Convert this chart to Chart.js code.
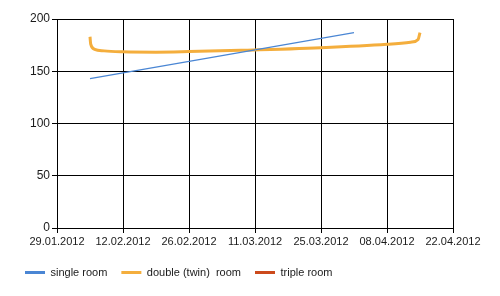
<!DOCTYPE html>
<html><head><meta charset="utf-8">
<script src="https://cdn.jsdelivr.net/npm/chart.js@4/dist/chart.umd.min.js"></script>
<style>html,body{margin:0;padding:0;background:#fff}#wrap{width:500px;height:296px}</style>
</head><body><div id="wrap"><canvas id="c" width="500" height="296"></canvas></div>
<script>
const seriesNames = ['single room', 'double (twin)  room', 'triple room'];
const seriesColors = ['#4a86d4', '#f4ae3d', '#cc4a1c'];
const singleDates = ['2012-02-05T00:00', '2012-04-01T00:00'];
const singleValues = [143, 187];
const doubleDates = ['2012-02-05T00:00', '2012-02-05T03:36', '2012-02-06T00:00', '2012-02-08T00:00',
  '2012-02-12T00:00', '2012-02-19T00:00', '2012-02-26T00:00', '2012-03-08T00:00', '2012-03-25T00:00',
  '2012-04-08T00:00', '2012-04-13T00:00', '2012-04-14T14:24', '2012-04-15T00:00'];
const doubleValues = [183, 176, 171, 169.5, 168.6, 168.3, 168.8, 170, 172.5, 175.8, 177.8, 180.5, 187];
const tripleDates = [];
const tripleValues = [];
const xStartDate = '2012-01-29T00:00';
const xEndDate = '2012-04-22T00:00';
const xTickStepDays = 14;
const yTicks = [0, 50, 100, 150, 200];

const DAY = 86400000;
const toMs = s => Date.parse(s + ':00Z');
const startMs = toMs(xStartDate);
const toDay = s => (toMs(s) - startMs) / DAY;
const pts = (d, v) => d.map((s, i) => ({x: toDay(s), y: v[i]}));
const fmt = day => {
  const d = new Date(startMs + day * DAY);
  const p = n => String(n).padStart(2, '0');
  return p(d.getUTCDate()) + '.' + p(d.getUTCMonth() + 1) + '.' + d.getUTCFullYear();
};
const FONT = "'Liberation Sans', Arial, sans-serif";

new Chart(document.getElementById('c'), {
  type: 'line',
  data: {
    datasets: [
      {label: seriesNames[0], data: pts(singleDates, singleValues), borderColor: seriesColors[0], backgroundColor: seriesColors[0], borderWidth: 1.3, pointRadius: 0, tension: 0},
      {label: seriesNames[1], data: pts(doubleDates, doubleValues), borderColor: seriesColors[1], backgroundColor: seriesColors[1], borderWidth: 3, pointRadius: 0, cubicInterpolationMode: 'monotone'},
      {label: seriesNames[2], data: pts(tripleDates, tripleValues), borderColor: seriesColors[2], backgroundColor: seriesColors[2], borderWidth: 3, pointRadius: 0}
    ]
  },
  options: {
    responsive: false,
    animation: false,
    devicePixelRatio: 1,
    layout: {padding: {left: 11, right: 47, top: 19, bottom: 8}},
    plugins: {
      tooltip: {enabled: false},
      legend: {
        position: 'bottom',
        align: 'start',
        labels: {
          boxWidth: 20, boxHeight: 3, padding: 14,
          color: '#1a1a1a', font: {family: FONT, size: 11},
          generateLabels: chart => Chart.defaults.plugins.legend.labels.generateLabels(chart).map(l => Object.assign(l, {lineWidth: 0, fillStyle: l.strokeStyle}))
        }
      }
    },
    scales: {
      x: {
        type: 'linear',
        min: toDay(xStartDate), max: toDay(xEndDate),
        afterBuildTicks: s => { const t = []; for (let v = s.min; v <= s.max + 1e-9; v += xTickStepDays) t.push({value: v}); s.ticks = t; },
        afterFit: s => { s.height = 25; },
        ticks: {callback: v => fmt(v), maxRotation: 0, autoSkip: false, padding: 2, color: '#1a1a1a', font: {family: FONT, size: 11}},
        grid: {color: '#000', lineWidth: 1, tickLength: 5, tickColor: '#000'},
        border: {color: '#000', width: 1}
      },
      y: {
        min: yTicks[0], max: yTicks[yTicks.length - 1],
        afterBuildTicks: s => { s.ticks = yTicks.map(v => ({value: v})); },
        afterFit: s => { s.width = 46; },
        ticks: {padding: 2, color: '#1a1a1a', font: {family: FONT, size: 12}},
        grid: {color: '#000', lineWidth: 1, tickLength: 5, tickColor: '#000'},
        border: {color: '#000', width: 1}
      }
    }
  }
});
</script></body></html>
